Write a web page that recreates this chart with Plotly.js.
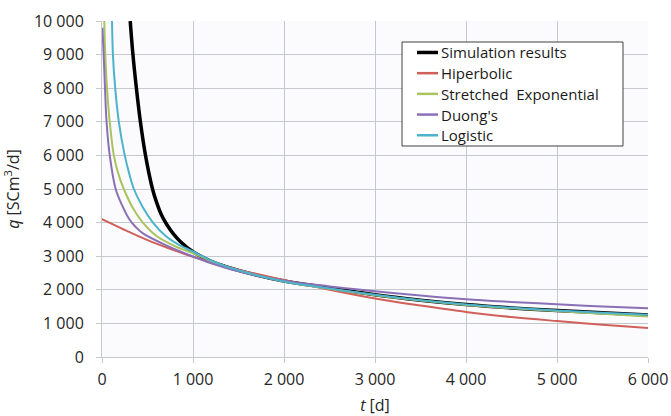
<!DOCTYPE html>
<html>
<head>
<meta charset="utf-8">
<script src="https://cdn.plot.ly/plotly-3.0.1.min.js"></script>
<style>html,body{margin:0;padding:0;background:#fff;}#chart{width:671px;height:416px;}</style>
</head>
<body>
<div id="chart"></div>
<script>
// Series names
const seriesNames = ['Simulation results', 'Hiperbolic', 'Stretched  Exponential', "Duong's", 'Logistic'];

// Simulation results (black)
const simT = [310, 340, 378, 422, 478, 555, 600, 650, 710, 780, 860, 1000, 1200, 1500, 2000, 2500, 3000, 3500, 4000, 4500, 5000, 5500, 6000];
const simQ = [10000, 9000, 8000, 7000, 6000, 5000, 4600, 4250, 3950, 3680, 3440, 3130, 2850, 2580, 2260, 2060, 1850, 1690, 1560, 1460, 1385, 1315, 1250];

// Hiperbolic (red)
const hypT = [0, 250, 500, 750, 1000, 1500, 2000, 2500, 3000, 3500, 4000, 4500, 5000, 5500, 6000];
const hypQ = [4100, 3780, 3480, 3220, 2980, 2600, 2290, 2000, 1740, 1530, 1340, 1190, 1070, 960, 860];

// Stretched Exponential (green)
const sepT = [25, 36, 55, 85, 130, 180, 240, 330, 440, 600, 800, 1000, 1200, 1500, 2000, 2500, 3000, 3500, 4000, 4500, 5000, 5500, 6000];
const sepQ = [10000, 9000, 8000, 7000, 6000, 5450, 5000, 4480, 4030, 3600, 3300, 3090, 2850, 2570, 2250, 2030, 1840, 1680, 1550, 1450, 1370, 1285, 1205];

// Duong's (purple)
const duoT = [5, 18, 33, 50, 85, 150, 220, 300, 370, 450, 700, 1000, 1200, 1500, 2000, 2500, 3000, 3500, 4000, 4500, 5000, 5500, 6000];
const duoQ = [9800, 9000, 8000, 7000, 6000, 5000, 4520, 4100, 3870, 3680, 3330, 2990, 2790, 2550, 2270, 2100, 1960, 1830, 1720, 1640, 1570, 1505, 1450];

// Logistic (cyan)
const logT = [110, 120, 145, 185, 250, 300, 350, 450, 560, 700, 850, 1000, 1200, 1500, 2000, 2500, 3000, 3500, 4000, 4500, 5000, 5500, 6000];
const logQ = [10000, 9000, 8000, 7000, 6000, 5450, 5000, 4450, 4000, 3600, 3330, 3140, 2870, 2580, 2250, 2040, 1850, 1690, 1565, 1465, 1385, 1320, 1260];

// Tick labels
const xTickVals = [0, 1000, 2000, 3000, 4000, 5000, 6000];
const xTickText = ['0', '1 000', '2 000', '3 000', '4 000', '5 000', '6 000'];
const yTickVals = [0, 1000, 2000, 3000, 4000, 5000, 6000, 7000, 8000, 9000, 10000];
const yTickText = ['0', '1 000', '2 000', '3 000', '4 000', '5 000', '6 000', '7 000', '8 000', '9 000', '10 000'];

const colors = ['#000000', '#d0605a', '#a9c45e', '#8a70b6', '#4db3cd'];
const widths = [3.5, 2, 2, 2, 2];
const xs = [simT, hypT, sepT, duoT, logT];
const ys = [simQ, hypQ, sepQ, duoQ, logQ];

const traces = seriesNames.map((n, i) => ({
  x: xs[i], y: ys[i], name: n, type: 'scatter', mode: 'lines',
  line: {color: colors[i], width: widths[i], shape: 'spline', smoothing: 1},
  showlegend: false
}));

const font = {family: '"Open Sans", sans-serif', size: 16, color: '#262626'};
const gridColor = '#c6c9cc';

// Custom legend box (in paper fractions)
const L = {x0: 0.5495, x1: 0.9542, y0: 0.628, y1: 0.9375, lineX0: 0.5769, lineX1: 0.6154, textX: 0.6172, rowTop: 0.9063, rowStep: 0.0616};
const shapes = [{type: 'rect', xref: 'paper', yref: 'paper', x0: L.x0, x1: L.x1, y0: L.y0, y1: L.y1,
  fillcolor: '#ffffff', line: {color: '#404040', width: 1}, layer: 'above'}];
const annotations = [];
seriesNames.forEach((n, i) => {
  const yy = L.rowTop - i * L.rowStep;
  shapes.push({type: 'line', xref: 'paper', yref: 'paper', x0: L.lineX0, x1: L.lineX1, y0: yy, y1: yy,
    line: {color: colors[i], width: i === 0 ? 3.5 : 2.5}, layer: 'above'});
  annotations.push({xref: 'paper', yref: 'paper', x: L.textX, y: yy, xanchor: 'left', yanchor: 'middle',
    text: n, showarrow: false, font: {family: '"Open Sans", sans-serif', size: 15, color: '#1a1a1a'}});
});

const layout = {
  width: 671, height: 416,
  margin: {l: 102, r: 23, t: 21, b: 59},
  paper_bgcolor: '#ffffff',
  plot_bgcolor: '#fbfbfd',
  font: font,
  showlegend: false,
  shapes: shapes,
  annotations: annotations,
  xaxis: {
    range: [0, 6000], tickvals: xTickVals, ticktext: xTickText,
    showgrid: true, gridcolor: gridColor, gridwidth: 1,
    showline: true, linecolor: gridColor, linewidth: 1,
    ticks: 'outside', ticklen: 5, tickcolor: gridColor, ticklabelstandoff: 3,
    zeroline: false, tickfont: font,
    title: {text: '<i>t</i> [d]', font: font, standoff: 12}
  },
  yaxis: {
    range: [0, 10000], tickvals: yTickVals, ticktext: yTickText,
    showgrid: true, gridcolor: gridColor, gridwidth: 1,
    showline: true, linecolor: gridColor, linewidth: 1,
    ticks: 'outside', ticklen: 5, tickcolor: gridColor, ticklabelstandoff: 9,
    zeroline: false, tickfont: font,
    title: {text: '<i>q</i> [SCm<sup>3</sup>/d]', font: font, standoff: 10}
  }
};

Plotly.newPlot('chart', traces, layout, {displayModeBar: false, staticPlot: true});
</script>
</body>
</html>
